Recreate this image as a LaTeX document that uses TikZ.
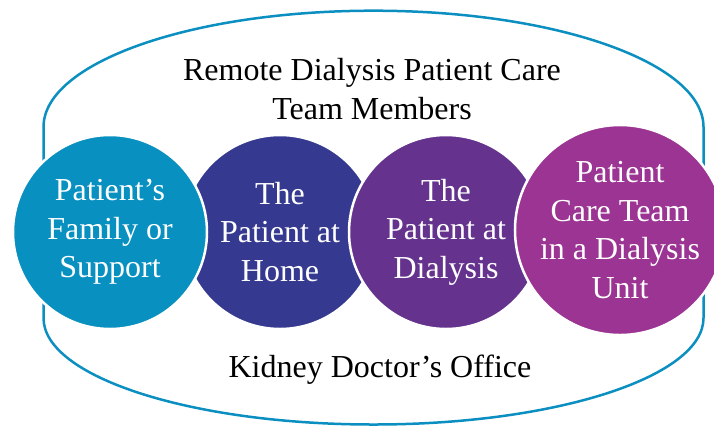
\documentclass[tikz,border=0pt]{standalone}
\usepackage{fontspec}
\setmainfont{Liberation Serif}
\usetikzlibrary{positioning}

\definecolor{ringblue}{RGB}{10,143,192}
\definecolor{famblue}{RGB}{7,144,192}
\definecolor{homeblue}{RGB}{53,58,144}
\definecolor{dialpurple}{RGB}{101,51,141}
\definecolor{unitpurple}{RGB}{155,52,146}

\begin{document}
\begin{tikzpicture}[x=1pt, y=1pt, node distance=170pt,
                    every node/.style={font=\fontsize{32}{38.5}\selectfont},
                    member/.style={circle, draw=white, line width=2.5pt, minimum size=194pt,
                                   inner sep=0pt, text=white, align=center}]

\useasboundingbox (0,0) rectangle (714,-426);

% outer ring, squarish at the sides
\draw[ringblue, line width=2.5pt] (43.5,-127)
  arc[start angle=180, end angle=0, x radius=330, y radius=116.3] -- (703.5,-318)
  arc[start angle=0, end angle=-180, x radius=330, y radius=106.5] -- cycle;

\node[member, fill=homeblue] (home) at (280,-232) {The\\Patient at\\Home};
\node[member, fill=famblue] (fam) [left of=home] {Patient's\\Family or\\Support};
\node[member, fill=dialpurple] (dial) [right of=home, xshift=-4pt] {The\\Patient at\\Dialysis};
\node[member, fill=unitpurple] (unit) [right of=dial, xshift=4pt, yshift=2pt]
      {Patient\\Care Team\\in a Dialysis\\Unit};

\node[align=center] (title) at (372,-89) {Remote Dialysis Patient Care\\Team Members};
\node (office) at (380,-369.5) {Kidney Doctor's Office};
\end{tikzpicture}
\end{document}
